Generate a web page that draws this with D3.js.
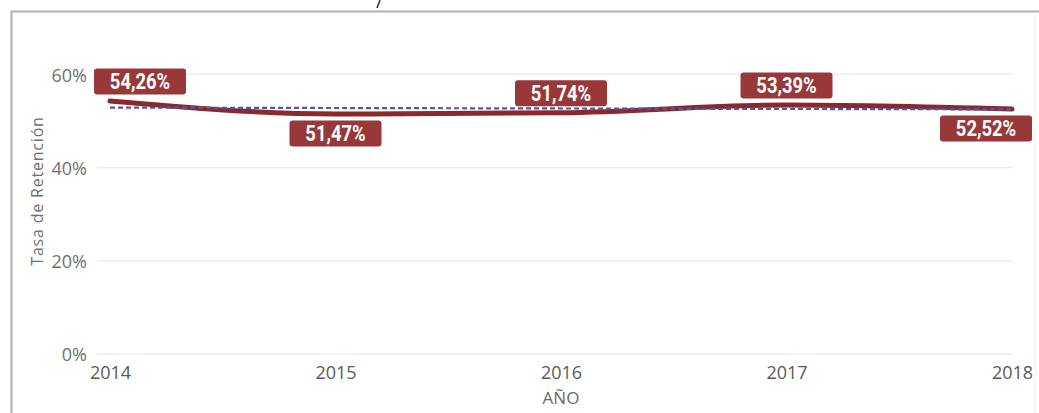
<!DOCTYPE html>
<html><head><meta charset="utf-8">
<script src="https://cdn.jsdelivr.net/npm/d3@7"></script>
<style>
html,body{margin:0;padding:0;background:#fff;}
svg{display:block;}
</style></head>
<body>
<script>
const years = ["2014","2015","2016","2017","2018"];
const retention = [54.26, 51.47, 51.74, 53.39, 52.52];
const valueLabels = ["54,26%","51,47%","51,74%","53,39%","52,52%"];
const labelSide = ["above","below","above","above","below"];
const trendValues = [52.85, 52.45];
const yTicks = [0, 20, 40, 60];
const yTickLabels = ["0%","20%","40%","60%"];

const W = 1039, H = 413;
const svg = d3.select("body").append("svg").attr("width", W).attr("height", H);

// frame
svg.append("path").attr("d", `M11.5,413 L11.5,11.5 L1039,11.5`)
  .attr("fill","none").attr("stroke","#b0b0b0").attr("stroke-width",2);
svg.append("line").attr("x1",1035).attr("x2",1035).attr("y1",12).attr("y2",413)
  .attr("stroke","#f2f2f2").attr("stroke-width",1);
svg.append("path").attr("d","M380,0 L377,8").attr("stroke","#333").attr("stroke-width",1.5);

const x = d3.scalePoint().domain(years).range([110, 1012]);
const y = d3.scaleLinear().domain([0, 60]).range([354, 74.2]);

const font = "'Open Sans', 'DejaVu Sans', sans-serif";

// gridlines
svg.append("g").selectAll("line").data(yTicks).join("line")
  .attr("x1", 97).attr("x2", 1013)
  .attr("y1", d => y(d)).attr("y2", d => y(d))
  .attr("stroke", "#ededed").attr("stroke-width", 1.5);

// y tick labels
svg.append("g").selectAll("text").data(yTicks).join("text")
  .attr("x", 87).attr("y", d => y(d) + 1).attr("dy", "0.35em")
  .attr("text-anchor","end")
  .attr("font-family", font)
  .attr("font-size", 18).attr("fill","#707070")
  .text((d,i) => yTickLabels[i]);

// x tick labels
const xAxis = d3.axisBottom(x).tickSize(0).tickPadding(0);
const gx = svg.append("g").attr("transform","translate(0,373)").call(xAxis);
gx.select(".domain").remove();
gx.selectAll("text")
  .attr("font-family", font)
  .attr("font-size", 18).attr("fill","#5a5a5a").attr("dy","0.35em");

// axis titles
svg.append("text").attr("x", 561).attr("y", 398).attr("dy","0.35em").attr("text-anchor","middle")
  .attr("font-family", font)
  .attr("font-size", 17).attr("fill","#6a6a6a").text("AÑO");
svg.append("text").attr("transform","translate(43,191) rotate(-90)").attr("text-anchor","middle")
  .attr("font-family", font).attr("letter-spacing", 0.8)
  .attr("font-size", 16).attr("fill","#707070").text("Tasa de Retención");

// main line
const line = d3.line().x((d,i) => x(years[i])).y(d => y(d)).curve(d3.curveMonotoneX);
svg.append("path").datum(retention).attr("d", line)
  .attr("fill","none").attr("stroke","#8b2828").attr("stroke-width",5)
  .attr("stroke-linecap","round");

// trend line
svg.append("line")
  .attr("x1", x(years[0])).attr("x2", x(years[years.length-1]))
  .attr("y1", y(trendValues[0])).attr("y2", y(trendValues[1]))
  .attr("stroke","#5656a8").attr("stroke-width",2.2).attr("stroke-dasharray","5,3");

// labels
const lw = 92, lh = 26;
const lg = svg.append("g").selectAll("g").data(retention).join("g")
  .attr("transform", (d,i) => {
    let cx = x(years[i]);
    if (i === 0) cx += 30;
    if (i === years.length-1) cx -= 26;
    let cy = labelSide[i] === "above" ? y(d) - 19.5 : y(d) + 19.5;
    return `translate(${cx},${cy})`;
  });
lg.append("rect").attr("x",-lw/2).attr("y",-lh/2).attr("width",lw).attr("height",lh)
  .attr("rx",3).attr("fill","#983838");
lg.append("text").attr("text-anchor","middle").attr("dy","0.36em")
  .attr("transform","scale(0.92,1.08)")
  .attr("font-family","Roboto, 'DejaVu Sans', sans-serif")
  .attr("font-weight","bold").attr("font-size",20).attr("fill","#fff")
  .text((d,i) => valueLabels[i]);
</script>
</body></html>
